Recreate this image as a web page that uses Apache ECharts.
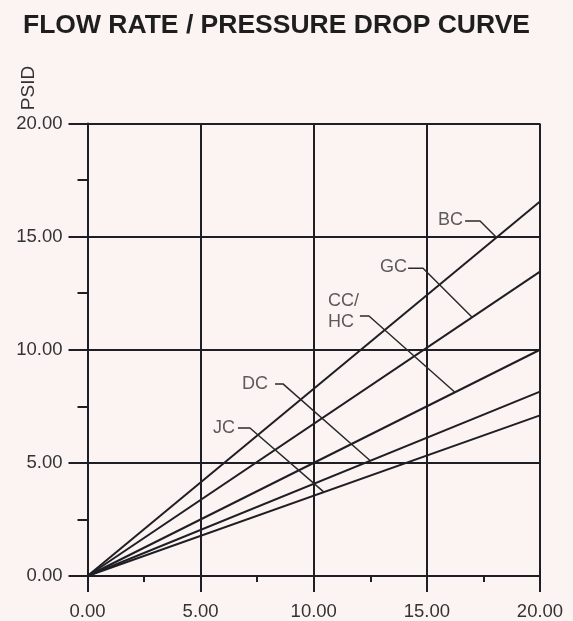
<!DOCTYPE html>
<html>
<head>
<meta charset="utf-8">
<script src="https://cdn.jsdelivr.net/npm/echarts@6/dist/echarts.min.js"></script>
<style>
html,body{margin:0;padding:0;background:#fcf4f3;}
#c{width:573px;height:621px;}
</style>
</head>
<body>
<div id="c"></div>
<script>
// ---- data ----
const flowPoints = [0, 20];
const seriesNames = ['BC', 'GC', 'CC/HC', 'DC', 'JC'];
const psidAtStart = [0, 0, 0, 0, 0];
const psidAtEnd = [16.55, 13.45, 10.0, 8.15, 7.1];
const xTicks = [0, 5, 10, 15, 20];
const yTicks = [0, 5, 10, 15, 20];
const labelTexts = ['BC', 'GC', 'CC/\nHC', 'DC', 'JC'];

// ---- annotation layout (data units) ----
const labelAnchor = [[16.6, 15.72], [14.12, 13.66], [10.63, 11.69], [7.98, 8.49], [6.52, 6.54]];
const labelAlign = ['right', 'right', 'left', 'right', 'right'];
const leaderStart = [[16.69, 15.69], [14.17, 13.6], [12.04, 11.49], [8.29, 8.49], [6.65, 6.54]];
const leaderElbowX = [17.35, 14.83, 12.44, 8.64, 7.18];
const leaderEndX = [18.08, 17.0, 16.24, 12.5, 10.45];

const ink = '#1e1e24';
const textCol = '#333333';
const font = "'Liberation Sans', Arial, Helvetica, sans-serif";

const series = [];
seriesNames.forEach((n, i) => {
  series.push({
    name: n, type: 'line', symbol: 'none', silent: true,
    data: [[flowPoints[0], psidAtStart[i]], [flowPoints[1], psidAtEnd[i]]],
    lineStyle: { color: ink, width: 2 }, z: 3
  });
});
// leaders
seriesNames.forEach((n, i) => {
  const slope = (psidAtEnd[i] - psidAtStart[i]) / (flowPoints[1] - flowPoints[0]);
  const ex = leaderEndX[i];
  const ey = psidAtStart[i] + slope * (ex - flowPoints[0]);
  series.push({
    type: 'line', symbol: 'none', silent: true,
    data: [leaderStart[i], [leaderElbowX[i], leaderStart[i][1]], [ex, ey]],
    lineStyle: { color: '#2a2a2a', width: 1.5 }, z: 4
  });
});
// labels
series.push({
  type: 'scatter', symbolSize: 0, silent: true, z: 5,
  data: labelAnchor.map((p, i) => ({
    value: p,
    label: {
      show: true, position: 'inside', formatter: labelTexts[i],
      align: labelAlign[i], verticalAlign: 'middle',
      color: textCol, fontSize: 18, fontFamily: font, lineHeight: 21
    }
  }))
});

const chart = echarts.init(document.getElementById('c'), null, { renderer: 'canvas' });
chart.setOption({
  backgroundColor: '#fcf4f3',
  animation: false,
  title: {
    text: 'FLOW RATE / PRESSURE DROP CURVE',
    left: 23, top: 12, padding: 0,
    textStyle: { fontSize: 26.5, fontWeight: 'bold', color: '#1e1e1e', fontFamily: font }
  },
  graphic: [{
    type: 'text', x: 29, y: 88, rotation: Math.PI / 2,
    style: { text: 'PSID', fontSize: 19, fontFamily: font, fill: textCol, align: 'center', verticalAlign: 'middle' }
  }],
  grid: { left: 87.5, top: 123.5, width: 452.5, height: 452.5, containLabel: false },
  xAxis: {
    type: 'value', min: xTicks[0], max: xTicks[xTicks.length - 1], interval: 5,
    axisLine: { show: true, lineStyle: { color: ink, width: 2 } },
    axisTick: { show: true, length: 16, lineStyle: { color: ink, width: 2 } },
    minorTick: { show: true, splitNumber: 2, length: 6, lineStyle: { color: ink, width: 2 } },
    splitLine: { show: true, lineStyle: { color: ink, width: 2 } },
    axisLabel: { margin: 26, fontSize: 18.5, color: textCol, fontFamily: font, formatter: v => v.toFixed(2) }
  },
  yAxis: {
    type: 'value', min: yTicks[0], max: yTicks[yTicks.length - 1], interval: 5,
    axisLine: { show: true, lineStyle: { color: ink, width: 2 } },
    axisTick: { show: true, length: 19, lineStyle: { color: ink, width: 2 } },
    minorTick: { show: true, splitNumber: 2, length: 10, lineStyle: { color: ink, width: 2 } },
    splitLine: { show: true, lineStyle: { color: ink, width: 2 } },
    axisLabel: { margin: 25, fontSize: 18.5, color: textCol, fontFamily: font, formatter: v => v.toFixed(2) }
  },
  series: series
});
</script>
</body>
</html>
